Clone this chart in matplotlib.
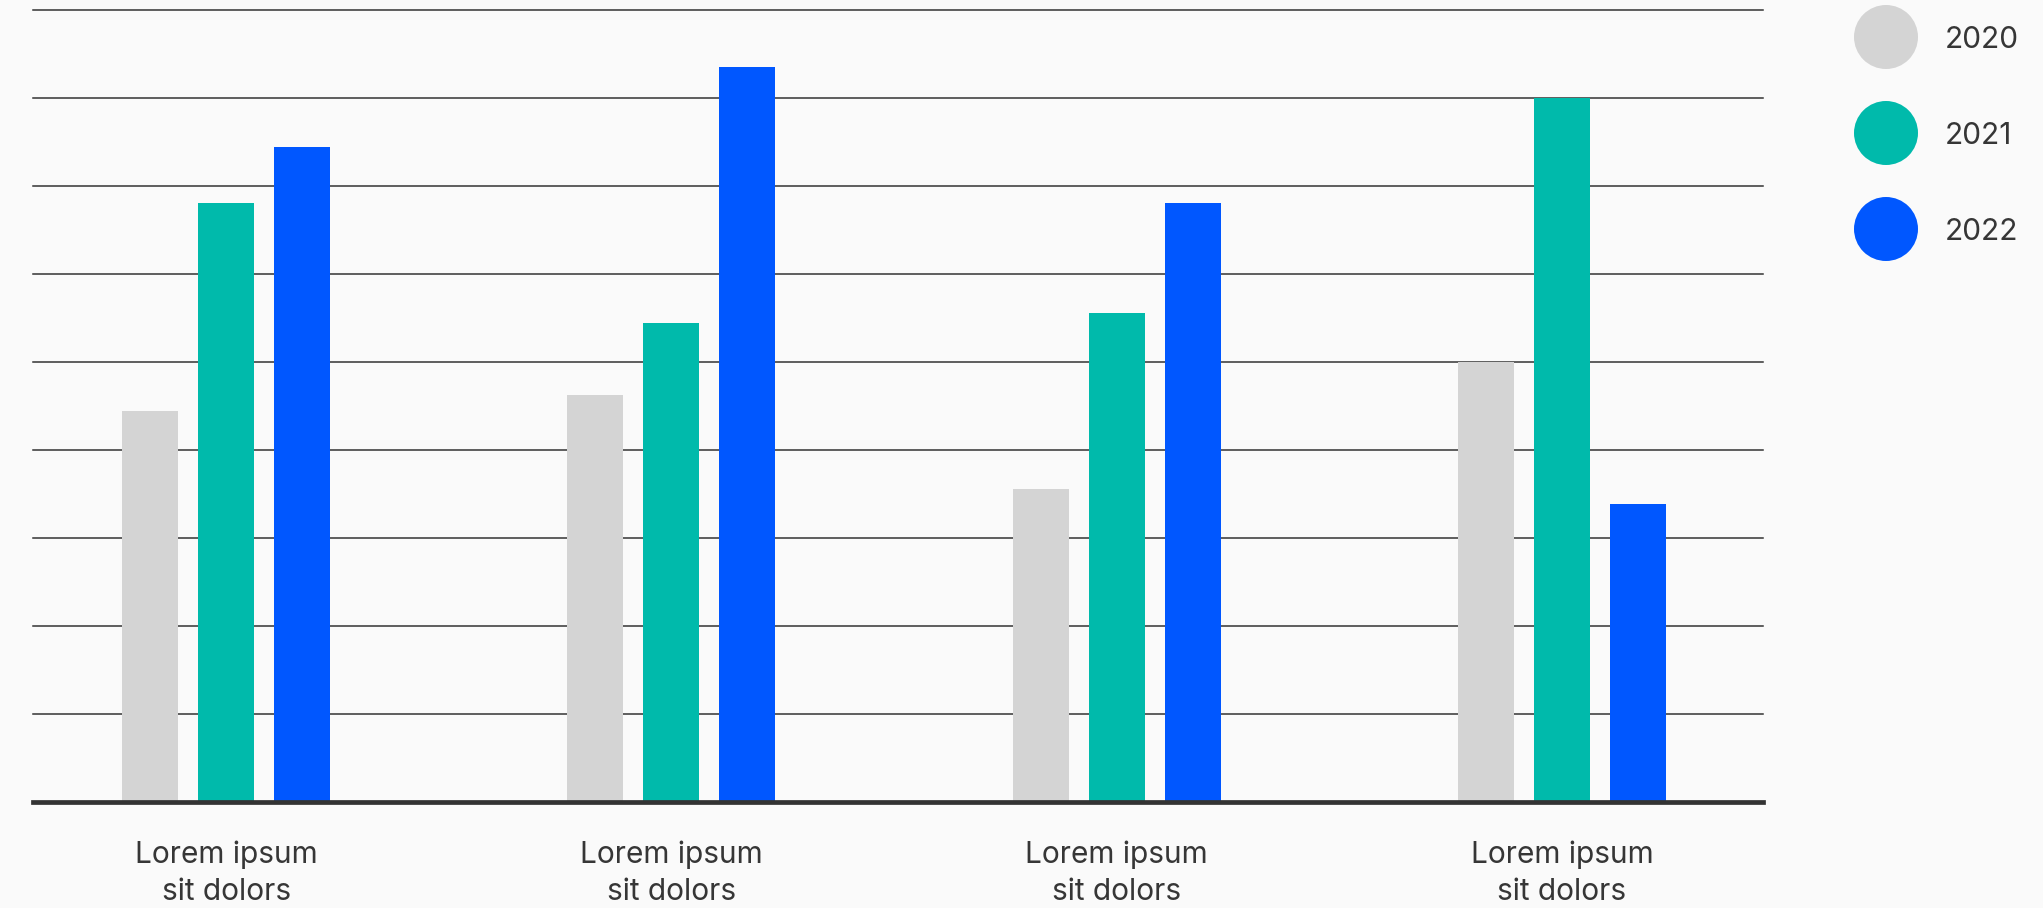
import matplotlib
matplotlib.use("Agg")
import matplotlib.pyplot as plt
from matplotlib.patches import Circle
from matplotlib.transforms import IdentityTransform, blended_transform_factory
import numpy as np

# ---- data ----
categories = ["Lorem ipsum\nsit dolors"] * 4
series_names = ["2020", "2021", "2022"]
values_2020 = [44.4, 46.2, 35.6, 50.0]
values_2021 = [68.1, 54.4, 55.6, 80.0]
values_2022 = [74.4, 83.5, 68.1, 33.9]
series_values = [values_2020, values_2021, values_2022]
colors = ["#D4D4D4", "#00BAAB", "#0057FF"]
yticks = list(range(0, 91, 10))

W, H = 2043, 908
DPI = 100
plt.rcParams['font.family'] = ['Inter', 'DejaVu Sans']
TEXT = "#363636"
BG = "#FAFAFA"

fig = plt.figure(figsize=(W / DPI, H / DPI), dpi=DPI, facecolor=BG)
# axes geometry in pixels
ax_left, ax_right, ax_top, ax_bottom = 33, 1763, 10, 802
ax = fig.add_axes([ax_left / W, (H - ax_bottom) / H,
                   (ax_right - ax_left) / W, (ax_bottom - ax_top) / H])
ax.set_facecolor(BG)

x = np.arange(len(categories))
group_px = 445.0
bar_w = 56 / group_px
step = 76 / group_px
for i, (vals, c) in enumerate(zip(series_values, colors)):
    ax.bar(x + (i - 1) * step, vals, width=bar_w, color=c, zorder=2,
           linewidth=0)

ax.set_xlim(-(226 - ax_left) / group_px, 3 + (ax_right - 1562) / group_px)
ax.set_ylim(0, 90)
for s in ax.spines.values():
    s.set_visible(False)
ax.set_xticks([])
ax.set_yticks([])
for t in yticks[1:]:
    ax.axhline(t, color="#333333", linewidth=1.1, zorder=1, clip_on=False)
ax.axhline(0, color="#333333", linewidth=3.4, zorder=3, clip_on=False)

# category labels (two lines each)
axh = ax_bottom - ax_top
trans = blended_transform_factory(ax.transData, ax.transAxes)
for xi, lab in zip(x, categories):
    lines = lab.split("\n")
    for j, ln in enumerate(lines):
        base = 863 + 37 * j
        ax.text(xi, -(base - ax_bottom) / axh, ln, transform=trans,
                ha="center", va="baseline", fontsize=21.5, color=TEXT)

# legend
for k, (name, c) in enumerate(zip(series_names, colors)):
    cy = H - (37 + 96 * k)
    fig.add_artist(Circle((1886, cy), 32, transform=IdentityTransform(),
                          facecolor=c, edgecolor="none"))
    fig.text(1945 / W, cy / H, name, ha="left", va="center_baseline",
             fontsize=21.5, color=TEXT)

fig.savefig("out.png", dpi=DPI, facecolor=BG)
